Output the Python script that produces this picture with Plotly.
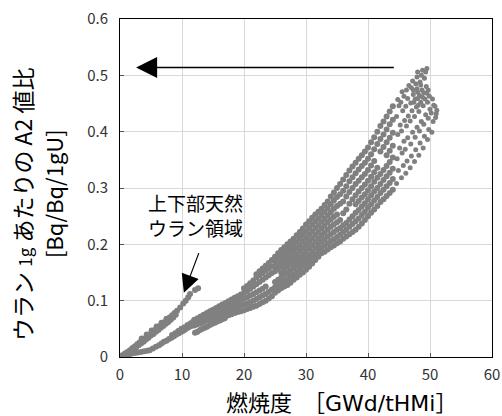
import plotly.graph_objects as go

# ---- data (burnup GWd/tHMi, A2 ratio) ----
# upper/lower natural uranium region (thin upper branch)
branch_x = [0.4, 0.8, 1.2, 1.6, 2.0, 2.4, 2.8, 3.2, 3.6, 4.0, 4.4, 4.8, 5.2, 5.6, 6.0, 6.4, 6.8, 7.2, 7.6, 8.0,
            8.4, 8.8, 9.2, 9.7, 10.2, 10.6, 11.0, 11.3, 12.1, 12.6,
            2.2, 2.6, 3.0, 3.4, 3.8, 4.2, 4.6, 5.0, 5.4, 5.8, 6.2, 6.6, 7.0, 7.4, 7.8, 8.2, 8.6, 9.0,
            3.5, 4.3, 5.1, 5.9, 6.7, 7.5]
branch_y = [0.003, 0.006, 0.009, 0.012, 0.016, 0.019, 0.023, 0.026, 0.030, 0.033, 0.037, 0.040, 0.044, 0.048,
            0.051, 0.055, 0.058, 0.062, 0.066, 0.070, 0.074, 0.078, 0.082, 0.088, 0.095, 0.100, 0.106, 0.112,
            0.119, 0.122,
            0.014, 0.017, 0.021, 0.024, 0.027, 0.031, 0.034, 0.038, 0.041, 0.045, 0.048, 0.052, 0.055, 0.059,
            0.062, 0.066, 0.070, 0.075,
            0.033, 0.040, 0.047, 0.054, 0.061, 0.068]

# start of the main band near the origin
core_x = [0.2, 0.6, 1.0, 1.4, 1.9, 2.4, 2.9, 3.4, 3.9, 4.4, 4.8, 5.3, 5.8, 6.3, 6.7, 7.1, 7.5, 7.9, 8.3, 8.7,
          9.1, 9.5, 9.9, 10.3, 10.7, 11.1, 11.5, 11.9,
          8.4, 8.9, 9.4, 9.9, 10.4, 10.9, 11.4, 11.8]
core_y = [0.001, 0.001, 0.002, 0.003, 0.006, 0.007, 0.008, 0.009, 0.010, 0.011, 0.012, 0.015, 0.018, 0.021,
          0.024, 0.027, 0.029, 0.032, 0.034, 0.037, 0.040, 0.042, 0.045, 0.047, 0.050, 0.053, 0.055, 0.058,
          0.039, 0.042, 0.046, 0.050, 0.053, 0.057, 0.060, 0.063]

# separate lower strand
strand_x = [12.1, 12.5, 12.9, 13.3, 13.7, 14.1, 14.5, 14.9, 15.3, 15.7, 16.1, 16.5, 16.9]
strand_y = [0.043, 0.045, 0.048, 0.050, 0.052, 0.054, 0.057, 0.059, 0.061, 0.063, 0.065, 0.067, 0.069]

# lower band, listed column by column
low_x = [12.0, 12.5, 13.0, 13.5, 14.0, 14.5, 15.0, 15.5, 16.0, 16.5, 17.0, 17.5, 18.0, 18.5, 19.0, 19.5,
         20.0, 20.5, 21.0, 21.5, 22.0, 22.5, 23.0, 23.5, 24.0, 24.5]
low_y = [
    [0.056, 0.061, 0.066], [0.058, 0.064, 0.069], [0.060, 0.066, 0.072], [0.062, 0.069, 0.075],
    [0.065, 0.071, 0.078], [0.067, 0.074, 0.081], [0.069, 0.076, 0.084], [0.072, 0.079, 0.087],
    [0.074, 0.082, 0.090], [0.076, 0.084, 0.093], [0.072, 0.079, 0.087, 0.096], [0.074, 0.081, 0.089, 0.099],
    [0.076, 0.084, 0.092, 0.102], [0.078, 0.086, 0.095, 0.105], [0.080, 0.089, 0.098, 0.108],
    [0.081, 0.091, 0.101, 0.111], [0.083, 0.093, 0.104, 0.114, 0.122], [0.085, 0.095, 0.106, 0.117, 0.126],
    [0.087, 0.097, 0.109, 0.121, 0.131], [0.089, 0.100, 0.112, 0.125, 0.136],
    [0.091, 0.103, 0.115, 0.129, 0.141, 0.147], [0.094, 0.106, 0.118, 0.133, 0.145, 0.152],
    [0.097, 0.109, 0.121, 0.137, 0.149, 0.157], [0.100, 0.112, 0.125, 0.141, 0.153, 0.162],
    [0.104, 0.116, 0.145, 0.157, 0.167], [0.108, 0.120, 0.149, 0.161, 0.172],
]

# middle band, listed column by column
mid_x = [25.0, 25.5, 26.0, 26.5, 27.0, 27.5, 28.0, 28.5, 29.0, 29.5, 30.0, 30.5, 31.0, 31.5, 32.0, 32.5,
         33.0, 33.5, 34.0, 34.5, 35.0, 35.5, 36.0, 36.5, 37.0, 37.5, 38.0, 38.5, 39.0, 39.5, 40.0, 40.5,
         41.0, 41.5, 42.0, 42.5, 43.0, 43.5, 44.0]
mid_y = [
    [0.114, 0.124, 0.133, 0.152, 0.161, 0.170, 0.178],
    [0.118, 0.127, 0.137, 0.156, 0.166, 0.175, 0.184],
    [0.122, 0.131, 0.141, 0.150, 0.161, 0.171, 0.181, 0.190],
    [0.125, 0.135, 0.146, 0.156, 0.166, 0.176, 0.186, 0.195],
    [0.128, 0.138, 0.149, 0.160, 0.170, 0.180, 0.191, 0.200],
    [0.132, 0.143, 0.153, 0.164, 0.174, 0.185, 0.195, 0.205],
    [0.137, 0.147, 0.158, 0.168, 0.179, 0.189, 0.200, 0.210],
    [0.141, 0.151, 0.162, 0.172, 0.183, 0.194, 0.205, 0.216],
    [0.146, 0.156, 0.167, 0.177, 0.188, 0.199, 0.211, 0.222],
    [0.150, 0.161, 0.171, 0.182, 0.193, 0.205, 0.217, 0.228],
    [0.155, 0.166, 0.176, 0.187, 0.199, 0.211, 0.223, 0.235],
    [0.160, 0.171, 0.181, 0.193, 0.205, 0.217, 0.229, 0.241],
    [0.166, 0.176, 0.187, 0.199, 0.211, 0.223, 0.235, 0.247],
    [0.172, 0.182, 0.193, 0.205, 0.217, 0.229, 0.241, 0.253],
    [0.178, 0.188, 0.199, 0.210, 0.222, 0.234, 0.246, 0.258],
    [0.184, 0.194, 0.205, 0.216, 0.228, 0.240, 0.252, 0.263],
    [0.187, 0.198, 0.209, 0.221, 0.233, 0.245, 0.258, 0.270],
    [0.191, 0.202, 0.214, 0.226, 0.239, 0.251, 0.264, 0.276],
    [0.195, 0.206, 0.218, 0.231, 0.244, 0.257, 0.271, 0.285],
    [0.198, 0.209, 0.222, 0.235, 0.249, 0.263, 0.278, 0.292],
    [0.202, 0.213, 0.226, 0.239, 0.253, 0.268, 0.284, 0.300],
    [0.205, 0.217, 0.229, 0.243, 0.272, 0.289, 0.307],
    [0.210, 0.222, 0.234, 0.255, 0.276, 0.295, 0.315],
    [0.214, 0.226, 0.238, 0.262, 0.285, 0.303, 0.323],
    [0.218, 0.231, 0.244, 0.272, 0.293, 0.312, 0.331],
    [0.222, 0.236, 0.250, 0.280, 0.300, 0.319, 0.338],
    [0.226, 0.241, 0.256, 0.271, 0.287, 0.307, 0.326, 0.345],
    [0.231, 0.246, 0.261, 0.277, 0.294, 0.313, 0.333, 0.352],
    [0.237, 0.252, 0.267, 0.283, 0.300, 0.319, 0.339, 0.358],
    [0.243, 0.258, 0.273, 0.289, 0.306, 0.325, 0.345, 0.365],
    [0.250, 0.265, 0.280, 0.296, 0.313, 0.332, 0.352, 0.372],
    [0.256, 0.271, 0.287, 0.303, 0.320, 0.340, 0.360, 0.381],
    [0.262, 0.278, 0.294, 0.311, 0.328, 0.348, 0.369, 0.390],
    [0.268, 0.284, 0.300, 0.318, 0.336, 0.378, 0.400],
    [0.275, 0.291, 0.307, 0.325, 0.365, 0.387, 0.410],
    [0.280, 0.297, 0.314, 0.332, 0.373, 0.395, 0.418],
    [0.286, 0.303, 0.321, 0.339, 0.358, 0.381, 0.404, 0.427],
    [0.291, 0.309, 0.327, 0.346, 0.366, 0.389, 0.413, 0.436],
    [0.297, 0.316, 0.334, 0.354, 0.375, 0.398, 0.421, 0.445],
]

# sparse top of the band
top_x = [44.6, 44.9, 44.7, 45.1, 44.8, 45.2, 44.6, 45.0, 44.8,
         45.4, 45.7, 45.5, 45.8, 45.4, 45.9, 45.6, 45.3, 45.8, 45.5,
         46.1, 46.3, 46.0, 46.4, 46.2, 46.5, 46.1, 46.4, 46.2, 46.6,
         46.8, 47.0, 46.9, 47.2, 46.8, 47.1, 46.9, 47.3, 47.0, 47.2,
         47.5, 47.7, 47.6, 47.9, 47.5, 47.8, 47.6, 48.0, 47.7, 47.9, 48.0,
         48.2, 48.4, 48.3, 48.6, 48.2, 48.5, 48.3, 48.7, 48.4, 48.6, 48.8,
         48.9, 49.1, 49.0, 49.3, 48.9, 49.2, 49.0, 49.4, 49.1, 49.3, 49.5,
         49.6, 49.8, 49.7, 50.0, 49.6, 49.9, 49.7,
         50.3, 50.5, 50.2, 50.6, 50.4, 50.9, 51.1, 50.8, 51.0,
         47.4, 48.1, 48.8, 47.9, 48.5, 49.5, 48.0, 47.3]
top_y = [0.308, 0.331, 0.352, 0.371, 0.395, 0.412, 0.427, 0.446, 0.457,
         0.318, 0.340, 0.362, 0.383, 0.401, 0.420, 0.437, 0.452, 0.463, 0.471,
         0.326, 0.348, 0.369, 0.389, 0.410, 0.428, 0.445, 0.459, 0.474, 0.482,
         0.336, 0.357, 0.378, 0.399, 0.419, 0.437, 0.451, 0.466, 0.478, 0.490,
         0.347, 0.368, 0.390, 0.408, 0.427, 0.444, 0.458, 0.470, 0.485, 0.497, 0.506,
         0.358, 0.380, 0.401, 0.418, 0.436, 0.452, 0.464, 0.474, 0.488, 0.500, 0.509,
         0.371, 0.392, 0.413, 0.430, 0.446, 0.458, 0.469, 0.480, 0.495, 0.506, 0.512,
         0.386, 0.404, 0.424, 0.440, 0.452, 0.463, 0.474,
         0.399, 0.418, 0.433, 0.447, 0.458, 0.425, 0.438, 0.445, 0.432,
         0.452, 0.447, 0.461, 0.476, 0.483, 0.468, 0.459, 0.474]

x_ticks = [0, 10, 20, 30, 40, 50, 60]
y_ticks = [0, 0.1, 0.2, 0.3, 0.4, 0.5, 0.6]

# ---- assemble ----
dense_x = list(branch_x) + list(core_x) + list(strand_x)
dense_y = list(branch_y) + list(core_y) + list(strand_y)
for cx, col in zip(low_x, low_y):
    dense_x += [cx] * len(col)
    dense_y += col
for cx, col in zip(mid_x, mid_y):
    dense_x += [cx] * len(col)
    dense_y += col
n = min(len(top_x), len(top_y))

FONT = "Noto Sans CJK JP"
GRAY = "#808080"
fig = go.Figure()
fig.add_trace(go.Scatter(x=dense_x, y=dense_y, mode="markers",
                         marker=dict(size=6, color=GRAY, line=dict(width=0)),
                         hoverinfo="skip", showlegend=False))
fig.add_trace(go.Scatter(x=top_x[:n], y=top_y[:n], mode="markers",
                         marker=dict(size=5, color=GRAY, line=dict(width=0)),
                         hoverinfo="skip", showlegend=False))

axis_common = dict(showgrid=True, gridcolor="#d9d9d9", gridwidth=1, showline=True, linecolor="black",
                   linewidth=1, mirror=True, ticks="inside", ticklen=4, tickcolor="#555",
                   zeroline=False, ticklabeloverflow="allow",
                   tickfont=dict(family=FONT, size=15, color="#333"))
fig.update_xaxes(range=[0, 60], tickvals=x_ticks, ticklabelstandoff=4, **axis_common)
fig.update_yaxes(range=[0, 0.6], tickvals=y_ticks, ticktext=[f"{v:g}" for v in y_ticks],
                 ticklabelstandoff=8, **axis_common)

annotations = [
    # axis titles
    dict(text="燃焼度　［<span style='font-family:DejaVu Sans'>GWd/tHMi</span>］",
         xref="paper", yref="paper", x=0.595, y=-0.13,
         xanchor="center", yanchor="middle", showarrow=False, font=dict(family=FONT, size=22, color="black")),
    dict(text="ウラン <span style='font-size:17px'>1g</span> あたりの A2 値比",
         xref="paper", yref="paper", x=-0.2634, y=0.45, textangle=-90,
         xanchor="center", yanchor="middle", showarrow=False, font=dict(family=FONT, size=23, color="black")),
    dict(text="[Bq/Bq/1gU]",
         xref="paper", yref="paper", x=-0.180, y=0.482, textangle=-90,
         xanchor="center", yanchor="middle", showarrow=False, font=dict(family=FONT, size=22, color="black")),
    # region label
    dict(text="上下部天然<br>ウラン領域", xref="x", yref="y", x=12.1, y=0.252, showarrow=False,
         font=dict(family=FONT, size=19, color="black")),
    # long arrow
    dict(text="", xref="x", yref="y", x=2.6, y=0.514, axref="x", ayref="y", ax=44.4, ay=0.514,
         showarrow=True, arrowhead=2, arrowsize=2.8, arrowwidth=1.5, arrowcolor="black"),
    # label arrow
    dict(text="", xref="x", yref="y", x=10.3, y=0.114, axref="x", ayref="y", ax=12.8, ay=0.187,
         showarrow=True, arrowhead=2, arrowsize=3, arrowwidth=1.2, arrowcolor="black"),
]

fig.update_layout(width=502, height=416, margin=dict(l=120, r=10, t=19, b=59, autoexpand=False),
                  paper_bgcolor="white", plot_bgcolor="white", annotations=annotations,
                  font=dict(family=FONT))
# remove the default 8 px page margin so the 502x416 figure fills the window exactly
fig.write_html("out.html", config={"displayModeBar": False},
               post_script="document.body.style.margin='0';document.body.style.overflow='hidden';")
